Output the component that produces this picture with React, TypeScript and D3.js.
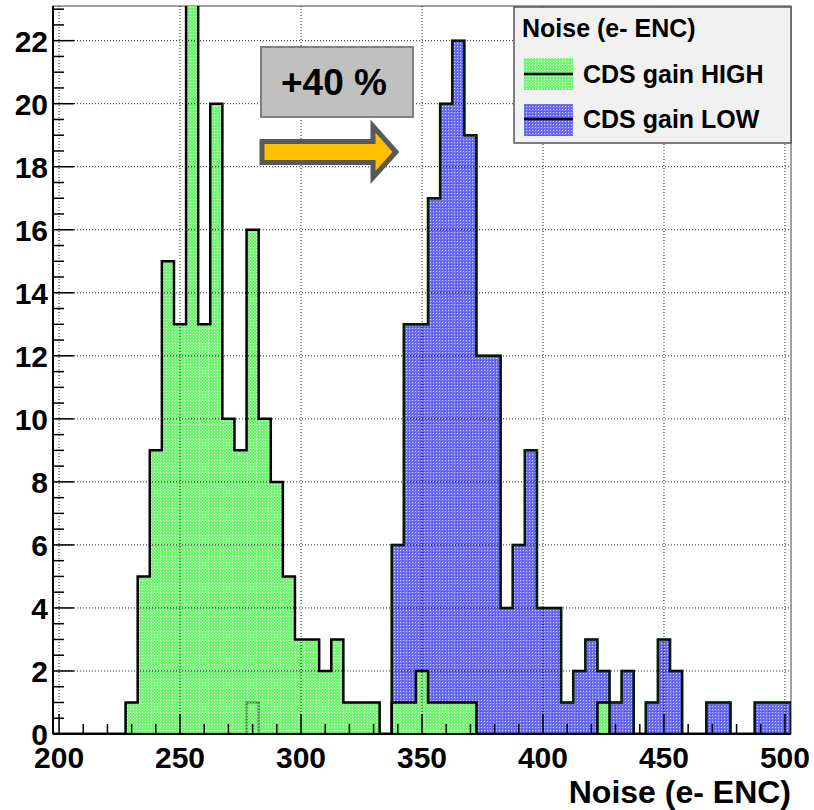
import React from "react";
import * as d3 from "d3";

// ---- data ----
const BIN_START = 197.5;
const BIN_WIDTH = 5;
// counts per 5-unit bin, bins centred on 200, 205, ..., 500
const highCounts = [
  0, 0, 0, 0, 0, 0, 1, 5, 9, 15, // 200-245
  13, 24, 13, 20, 10, 9, 16, 10, 8, 5, // 250-295
  3, 3, 2, 3, 1, 1, 1, 0, 1, 1, // 300-345
  2, 1, 1, 1, 1, 0, 0, 0, 0, 0, // 350-395
  0, 0, 0, 0, 0, 1, 0, 0, 0, 0, // 400-445
  0, 0, 0, 0, 0, 0, 0, 0, 0, 0, // 450-495
  0, // 500
];
const lowCounts = [
  0, 0, 0, 0, 0, 0, 0, 0, 0, 0, // 200-245
  0, 0, 0, 0, 0, 0, 1, 0, 0, 0, // 250-295
  0, 0, 0, 0, 0, 0, 0, 0, 6, 13, // 300-345
  13, 17, 20, 22, 19, 12, 12, 4, 6, 9, // 350-395
  4, 4, 1, 2, 3, 2, 1, 2, 0, 1, // 400-445
  3, 2, 0, 0, 1, 1, 0, 0, 1, 1, // 450-495
  1, // 500
];
const xTickLabels = ["200", "250", "300", "350", "400", "450", "500"];
const yTickLabels = ["0", "2", "4", "6", "8", "10", "12", "14", "16", "18", "20", "22"];
const seriesNames = ["CDS gain HIGH", "CDS gain LOW"];
const legendTitle = "Noise (e- ENC)";
const xTitle = "Noise (e- ENC)";
const annotation = "+40 %";

const W = 814;
const H = 810;
const FONT = "'Liberation Sans', Arial, Helvetica, sans-serif";

const frame = { left: 53, right: 791, top: 6, bottom: 734 };

export default function App() {
  const nBins = highCounts.length;
  const x = d3
    .scaleLinear()
    .domain([BIN_START, BIN_START + nBins * BIN_WIDTH])
    .range([frame.left, frame.right]);
  const y = d3.scaleLinear().domain([0, 23.1]).range([frame.bottom, frame.top]);

  const stepPoints = (counts: number[]) => {
    const pts: [number, number][] = [[x(BIN_START), y(0)]];
    counts.forEach((c, i) => {
      const l = BIN_START + i * BIN_WIDTH;
      pts.push([x(l), y(c)]);
      pts.push([x(l + BIN_WIDTH), y(c)]);
    });
    pts.push([x(BIN_START + counts.length * BIN_WIDTH), y(0)]);
    return pts;
  };
  const line = d3.line();
  const lowPath = line(stepPoints(lowCounts)) as string;
  const highPath = line(stepPoints(highCounts)) as string;

  const xMajor = xTickLabels.map(Number);
  const xMinor = d3.range(200, 501, 10).filter((v) => v % 50 !== 0);
  const yMajor = yTickLabels.map(Number);
  const yMinor = d3.range(0, 23.01, 0.5).filter((v) => v % 2 !== 0);

  // arrow geometry (annotation)
  const ar = { x0: 262, x1: 373, yT: 141.5, yB: 162.5, hT: 126, hB: 177.5, tip: 396 };
  const yc = (ar.yT + ar.yB) / 2;
  const arrowD = `M${ar.x0},${ar.yT} L${ar.x1},${ar.yT} L${ar.x1},${ar.hT} L${ar.tip},${yc} L${ar.x1},${ar.hB} L${ar.x1},${ar.yB} L${ar.x0},${ar.yB} Z`;

  return (
    <svg
      width={W}
      height={H}
      style={{ position: "absolute", left: 0, top: 0, background: "#fff" }}
      fontFamily={FONT}
    >
      <defs>
        <pattern id="pGreen" width="3" height="3" patternUnits="userSpaceOnUse">
          <rect width="3" height="3" fill="#76f476" />
          <rect x="1" y="1" width="1" height="1" fill="#e8ffe8" />
        </pattern>
        <pattern id="pBlue" width="3" height="3" patternUnits="userSpaceOnUse">
          <rect width="3" height="3" fill="#7070f4" />
          <rect x="1" y="1" width="1" height="1" fill="#d0d0ff" />
          <rect x="0" y="0" width="1" height="1" fill="#4a4ad8" />
        </pattern>
        <clipPath id="frameClip">
          <rect x={frame.left} y={frame.top} width={frame.right - frame.left} height={frame.bottom - frame.top} />
        </clipPath>
      </defs>

      {/* frame */}
      <rect x={frame.left} y={frame.top} width={frame.right - frame.left} height={frame.bottom - frame.top} fill="#fff" stroke="#444" strokeWidth={1} />

      <g clipPath="url(#frameClip)">
        {/* low histogram */}
        <path d={lowPath + "Z"} fill="url(#pBlue)" stroke="none" />
        <path d={lowPath} fill="none" stroke="#000" strokeWidth={2.5} />
        {/* high histogram */}
        <path d={highPath + "Z"} fill="url(#pGreen)" stroke="none" />
        <path d={lowPath} fill="none" stroke="#0a4a0a" strokeWidth={2.5} strokeDasharray="2,1" opacity={0.55} />
        <path d={highPath} fill="none" stroke="#000" strokeWidth={2.5} />

        {/* grid */}
        {xMajor.map((v) => (
          <line key={"gx" + v} x1={x(v)} x2={x(v)} y1={frame.top} y2={frame.bottom} stroke="#000" strokeWidth={1} strokeDasharray="1,2" opacity={0.85} />
        ))}
        {yMajor.map((v) => (
          <line key={"gy" + v} x1={frame.left} x2={frame.right} y1={y(v)} y2={y(v)} stroke="#000" strokeWidth={1} strokeDasharray="1,2" opacity={0.85} />
        ))}
      </g>

      {/* axes lines */}
      <line x1={frame.left} x2={frame.right} y1={frame.bottom} y2={frame.bottom} stroke="#000" strokeWidth={2} />
      <line x1={frame.left} x2={frame.left} y1={frame.top} y2={frame.bottom} stroke="#000" strokeWidth={2} />

      {/* x ticks */}
      {xMajor.map((v) => (
        <line key={"xt" + v} x1={x(v)} x2={x(v)} y1={frame.bottom} y2={frame.bottom - 20} stroke="#000" strokeWidth={1.5} />
      ))}
      {xMinor.map((v) => (
        <line key={"xm" + v} x1={x(v)} x2={x(v)} y1={frame.bottom} y2={frame.bottom - 10} stroke="#000" strokeWidth={1.5} />
      ))}
      {/* y ticks */}
      {yMajor.map((v) => (
        <line key={"yt" + v} x1={frame.left} x2={frame.left + 21} y1={y(v)} y2={y(v)} stroke="#000" strokeWidth={1.5} />
      ))}
      {yMinor.map((v) => (
        <line key={"ym" + v} x1={frame.left} x2={frame.left + 11} y1={y(v)} y2={y(v)} stroke="#000" strokeWidth={1.5} />
      ))}

      {/* tick labels */}
      {xTickLabels.map((t) => (
        <text key={"xl" + t} x={x(Number(t))} y={768} textAnchor="middle" fontSize={30} fontWeight="bold" fill="#000">
          {t}
        </text>
      ))}
      {yTickLabels.map((t) => (
        <text key={"yl" + t} x={48} y={y(Number(t)) + 11} textAnchor="end" fontSize={30} fontWeight="bold" fill="#000">
          {t}
        </text>
      ))}

      {/* x title */}
      <text x={791} y={803} textAnchor="end" fontSize={32} fontWeight="bold" fill="#000">
        {xTitle}
      </text>

      {/* annotation box */}
      <rect x={261} y={47} width={152} height={70} fill="#c0c0c0" stroke="#808080" strokeWidth={2} />
      <text x={334} y={95} textAnchor="middle" fontSize={37} fontWeight="bold" fill="#000">
        {annotation}
      </text>
      <path d={arrowD} fill="#ffc000" stroke="#595959" strokeWidth={5} strokeLinejoin="miter" />

      {/* legend */}
      <rect x={514} y={7} width={277} height={136} fill="#f1f1f1" stroke="#555" strokeWidth={1.5} />
      <text x={522} y={37} fontSize={25} fontWeight="bold" fill="#000">
        {legendTitle}
      </text>
      <rect x={524} y={58} width={49} height={32} fill="url(#pGreen)" />
      <line x1={524} x2={573} y1={74} y2={74} stroke="#000" strokeWidth={2.5} />
      <text x={583} y={83} fontSize={25} fontWeight="bold" fill="#000">
        {seriesNames[0]}
      </text>
      <rect x={524} y={104} width={49} height={32} fill="url(#pBlue)" />
      <line x1={524} x2={573} y1={119} y2={119} stroke="#000" strokeWidth={2.5} />
      <text x={583} y={128} fontSize={25} fontWeight="bold" fill="#000">
        {seriesNames[1]}
      </text>
    </svg>
  );
}
